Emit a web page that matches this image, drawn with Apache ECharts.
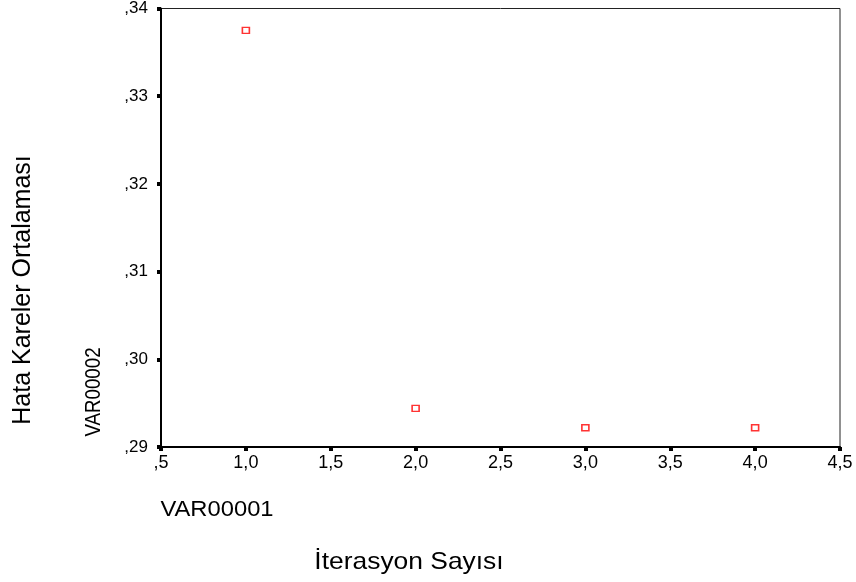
<!DOCTYPE html>
<html>
<head>
<meta charset="utf-8">
<script src="https://cdn.jsdelivr.net/npm/echarts@6/dist/echarts.min.js"></script>
<style>
html,body{margin:0;padding:0;background:#fff;}
#chart{width:856px;height:582px;}
</style>
</head>
<body>
<div id="chart"></div>
<script>
// Data
const xValues = [1, 2, 3, 4];
const yValues = [0.3375, 0.2944, 0.2922, 0.2922];
const xTicks = [0.5, 1.0, 1.5, 2.0, 2.5, 3.0, 3.5, 4.0, 4.5];
const yTicks = [0.29, 0.30, 0.31, 0.32, 0.33, 0.34];
const xAxisVarName = 'VAR00001';
const yAxisVarName = 'VAR00002';
const xTitle = 'İterasyon Sayısı';
const yTitle = 'Hata Kareler Ortalaması';

const FONT = '"Liberation Sans", Arial, sans-serif';
function commaFmt(v, digits) {
  let s = Number(v).toFixed(digits).replace('.', ',');
  if (s.startsWith('0,')) s = s.slice(1);
  return s;
}

const chart = echarts.init(document.getElementById('chart'), null, {renderer: 'canvas'});
chart.setOption({
  backgroundColor: '#fff',
  animation: false,
  grid: {
    left: 161, top: 7, right: 16, bottom: 135,
    show: true, borderColor: '#222', borderWidth: 1, backgroundColor: 'transparent'
  },
  xAxis: {
    type: 'value',
    min: xTicks[0], max: xTicks[xTicks.length - 1], interval: 0.5,
    axisLine: {show: true, onZero: false, lineStyle: {color: '#000', width: 2}},
    axisTick: {show: true, length: 4, lineStyle: {color: '#000', width: 4}},
    splitLine: {show: false},
    axisLabel: {
      color: '#000', fontFamily: FONT, fontSize: 18, margin: 7,
      formatter: v => commaFmt(v, 1)
    }
  },
  yAxis: {
    type: 'value',
    min: yTicks[0], max: yTicks[yTicks.length - 1], interval: 0.01,
    axisLine: {show: true, onZero: false, lineStyle: {color: '#000', width: 2}},
    axisTick: {show: true, length: 4, lineStyle: {color: '#000', width: 4}},
    splitLine: {show: false},
    axisLabel: {
      color: '#000', fontFamily: FONT, fontSize: 17, margin: 13,
      formatter: v => commaFmt(v, 2)
    }
  },
  series: [{
    type: 'scatter',
    data: xValues.map((x, i) => [x, yValues[i]]),
    symbol: 'rect',
    symbolSize: [7, 6],
    itemStyle: {color: '#fff', borderColor: '#ff0000', borderWidth: 1.5}
  }],
  graphic: [
    {type: 'text', x: 23, y: 290, rotation: Math.PI / 2,
     style: {text: yTitle, fill: '#000', font: '25px ' + FONT, align: 'center', verticalAlign: 'middle'}},
    {type: 'text', x: 94, y: 392, rotation: Math.PI / 2, scaleX: 0.85,
     style: {text: yAxisVarName, fill: '#000', font: '22px ' + FONT, align: 'center', verticalAlign: 'middle'}},
    {type: 'text', x: 217, y: 510, scaleX: 1.08,
     style: {text: xAxisVarName, fill: '#000', font: '22px ' + FONT, align: 'center', verticalAlign: 'middle'}},
    {type: 'text', x: 409, y: 562, scaleX: 1.1,
     style: {text: xTitle, fill: '#000', font: '24px ' + FONT, align: 'center', verticalAlign: 'middle'}}
  ]
});
</script>
</body>
</html>
